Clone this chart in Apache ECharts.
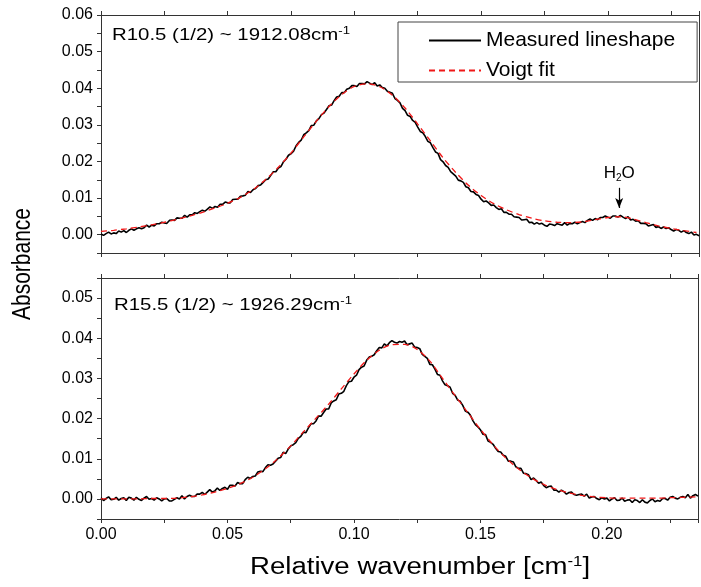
<!DOCTYPE html>
<html><head><meta charset="utf-8">
<script src="https://cdn.jsdelivr.net/npm/echarts@6/dist/echarts.min.js"></script>
<style>html,body{margin:0;padding:0;background:#fff}#c{width:701px;height:587px}</style>
</head><body><div id="c"></div>
<script>
// Sampling steps of the wavenumber grid (cm^-1)
const measuredStep = 0.001;
const fitStep = 0.005;

// Top panel: R10.5 (1/2) ~ 1912.08 cm-1
const topMeasured = [
0.0002,-0.0002,0.0003,0.0007,0.0002,0.0005,
0.0003,0.0010,0.0007,0.0011,0.0006,
0.0012,0.0016,0.0012,0.0016,0.0019,
0.0016,0.0019,0.0026,0.0021,0.0026,
0.0024,0.0030,0.0030,0.0034,0.0032,
0.0031,0.0039,0.0040,0.0039,0.0046,
0.0045,0.0045,0.0053,0.0048,0.0054,
0.0054,0.0060,0.0058,0.0063,0.0067,
0.0064,0.0070,0.0076,0.0072,0.0077,
0.0075,0.0083,0.0083,0.0089,0.0087,
0.0087,0.0096,0.0097,0.0097,0.0105,
0.0106,0.0108,0.0118,0.0115,0.0123,
0.0126,0.0134,0.0136,0.0143,0.0150,
0.0152,0.0162,0.0172,0.0172,0.0182,
0.0186,0.0199,0.0206,0.0217,0.0221,
0.0228,0.0243,0.0252,0.0258,0.0273,
0.0278,0.0284,0.0298,0.0299,0.0311,
0.0317,0.0328,0.0332,0.0342,0.0352,
0.0354,0.0366,0.0376,0.0378,0.0388,
0.0388,0.0397,0.0400,0.0407,0.0407,
0.0405,0.0413,0.0413,0.0412,0.0418,
0.0414,0.0410,0.0415,0.0406,0.0409,
0.0402,0.0400,0.0392,0.0389,0.0386,
0.0372,0.0367,0.0360,0.0345,0.0339,
0.0326,0.0323,0.0312,0.0307,0.0294,
0.0282,0.0278,0.0268,0.0255,0.0251,
0.0238,0.0226,0.0222,0.0205,0.0199,
0.0189,0.0184,0.0172,0.0166,0.0160,
0.0149,0.0147,0.0143,0.0131,0.0128,
0.0118,0.0117,0.0110,0.0107,0.0097,
0.0090,0.0092,0.0087,0.0080,0.0081,
0.0074,0.0069,0.0071,0.0061,0.0061,
0.0056,0.0056,0.0049,0.0048,0.0047,
0.0040,0.0041,0.0042,0.0033,0.0034,
0.0029,0.0033,0.0029,0.0031,0.0026,
0.0023,0.0029,0.0028,0.0025,0.0030,
0.0028,0.0026,0.0033,0.0026,0.0031,
0.0030,0.0034,0.0030,0.0033,0.0036,
0.0033,0.0039,0.0043,0.0039,0.0044,
0.0041,0.0047,0.0047,0.0051,0.0048,
0.0045,0.0051,0.0051,0.0048,0.0053,
0.0048,0.0044,0.0049,0.0040,0.0042,
0.0037,0.0038,0.0031,0.0031,0.0030,
0.0024,0.0026,0.0028,0.0020,0.0022,
0.0017,0.0021,0.0017,0.0019,0.0014,
0.0010,0.0014,0.0012,0.0007,0.0011,
0.0006,0.0003,0.0007,-0.0001,0.0001,-0.0003
];
const topFit = [
0.0009,0.0012,0.0016,0.0021,0.0027,0.0034,0.0042,0.0051,0.0061,0.0073,
0.0086,0.0102,0.0123,0.0151,0.0184,0.0223,0.0267,0.0310,0.0350,0.0383,
0.0405,0.0412,0.0404,0.0381,0.0346,0.0302,0.0256,0.0210,0.0170,0.0135,
0.0107,0.0085,0.0068,0.0055,0.0045,0.0038,0.0034,0.0033,0.0035,0.0041,
0.0047,0.0049,0.0043,0.0033,0.0024,0.0017,0.0011,0.0006
];

// Bottom panel: R15.5 (1/2) ~ 1926.29 cm-1
const bottomMeasured = [
0.0003,-0.0004,0.0001,0.0005,-0.0002,-0.0001,
0.0004,-0.0003,0.0001,0.0003,-0.0004,
0.0004,0.0002,-0.0003,0.0004,-0.0001,
-0.0004,0.0002,0.0006,-0.0001,0.0001,
-0.0003,0.0003,0.0000,-0.0005,0.0000,
0.0001,-0.0005,-0.0005,-0.0001,0.0003,
0.0000,0.0008,0.0000,0.0006,0.0009,
0.0006,0.0006,0.0012,0.0012,0.0016,
0.0011,0.0017,0.0023,0.0017,0.0020,
0.0027,0.0021,0.0026,0.0029,0.0024,
0.0034,0.0034,0.0032,0.0041,0.0038,
0.0038,0.0048,0.0054,0.0051,0.0056,
0.0057,0.0067,0.0069,0.0068,0.0078,
0.0085,0.0084,0.0087,0.0094,0.0101,
0.0103,0.0116,0.0113,0.0124,0.0132,
0.0135,0.0140,0.0151,0.0156,0.0166,
0.0165,0.0177,0.0187,0.0187,0.0194,
0.0206,0.0206,0.0215,0.0224,0.0224,
0.0239,0.0244,0.0247,0.0261,0.0263,
0.0268,0.0282,0.0292,0.0293,0.0303,
0.0308,0.0322,0.0328,0.0331,0.0345,
0.0353,0.0355,0.0359,0.0369,0.0377,
0.0376,0.0386,0.0381,0.0389,0.0394,
0.0390,0.0388,0.0392,0.0390,0.0393,
0.0384,0.0386,0.0388,0.0378,0.0377,
0.0374,0.0360,0.0355,0.0350,0.0335,
0.0334,0.0323,0.0310,0.0308,0.0294,
0.0284,0.0282,0.0278,0.0263,0.0258,
0.0246,0.0243,0.0233,0.0219,0.0216,
0.0209,0.0195,0.0185,0.0179,0.0172,
0.0161,0.0160,0.0144,0.0141,0.0136,
0.0126,0.0118,0.0117,0.0109,0.0106,
0.0094,0.0094,0.0092,0.0080,0.0076,
0.0076,0.0064,0.0063,0.0060,0.0048,
0.0052,0.0046,0.0039,0.0042,0.0033,
0.0028,0.0031,0.0032,0.0022,0.0022,
0.0017,0.0022,0.0018,0.0012,0.0016,
0.0017,0.0011,0.0009,0.0011,0.0012,
0.0007,0.0012,0.0002,0.0005,0.0006,
0.0001,-0.0002,0.0003,0.0000,0.0002,
-0.0005,0.0000,0.0003,-0.0004,-0.0003,
0.0002,-0.0006,-0.0003,-0.0002,-0.0009,
-0.0002,-0.0004,-0.0009,-0.0002,-0.0008,
-0.0010,-0.0004,0.0000,-0.0007,-0.0004,
-0.0006,0.0001,0.0001,-0.0003,0.0004,
0.0006,0.0002,0.0000,0.0004,0.0006,
0.0003,0.0011,0.0002,0.0008,0.0011,0.0007
];
const bottomFit = [
0.0000,0.0000,0.0000,0.0000,0.0001,0.0001,0.0002,0.0005,0.0010,0.0017,
0.0026,0.0038,0.0054,0.0075,0.0101,0.0132,0.0167,0.0201,0.0236,0.0274,
0.0311,0.0345,0.0370,0.0384,0.0385,0.0372,0.0343,0.0300,0.0257,0.0215,
0.0173,0.0135,0.0102,0.0075,0.0053,0.0036,0.0024,0.0015,0.0009,0.0005,
0.0003,0.0002,0.0002,0.0002,0.0002,0.0003,0.0004,0.0005
];

const seriesNames = ['Measured lineshape', 'Voigt fit'];
const panelTitles = ['R10.5 (1/2) ~ 1912.08cm{sup|-1}', 'R15.5 (1/2) ~ 1926.29cm{sup|-1}'];
const xTitle = 'Relative wavenumber [cm{sup|-1}]';
const yTitle = 'Absorbance';
const h2oLabel = 'H{sub|2}O';
const h2oArrow = [[0.2045, 0.0128], [0.2045, 0.0073]];

const xMin = 0, xMax = 0.236, xStep = 0.025;
const yRanges = [[-0.005, 0.06], [-0.005, 0.055]];
const yStep = 0.005;

const FONT = 'Liberation Sans, Arial, sans-serif';

function pairs(vals, step) { return vals.map((v, i) => [+(i * step).toFixed(4), v]); }

function xLabel(v) {
  const k = Math.round(v * 1000);
  return (Math.abs(v * 1000 - k) < 1e-6 && k % 50 === 0) ? v.toFixed(2) : '';
}
function yLabel(v) {
  const k = Math.round(v * 1000);
  return (k >= 0 && k % 10 === 0) ? (k / 1000).toFixed(2) : '';
}

const axisColor = '#333';
function xAxisDef(grid, pos) {
  return {
    type: 'value', gridIndex: grid, position: pos, min: xMin, max: xMax, interval: xStep,
    axisLine: { show: true, onZero: false, lineStyle: { color: axisColor, width: 1 } },
    axisTick: { show: true, inside: false, length: 4, lineStyle: { color: axisColor } },
    axisLabel: { show: pos === 'bottom' && grid === 1, formatter: xLabel, color: '#000', fontSize: 16, fontFamily: FONT, margin: 8 },
    splitLine: { show: false }
  };
}
function yAxisDef(grid, pos) {
  const r = yRanges[grid];
  return {
    type: 'value', gridIndex: grid, position: pos, min: r[0], max: r[1], interval: yStep,
    axisLine: { show: true, onZero: false, lineStyle: { color: axisColor, width: 1 } },
    axisTick: { show: pos === 'left', inside: false, length: 4, lineStyle: { color: axisColor } },
    axisLabel: { show: pos === 'left', formatter: yLabel, color: '#000', fontSize: 16, fontFamily: FONT, margin: 8 },
    splitLine: { show: false }
  };
}

const chart = echarts.init(document.getElementById('c'), null, { renderer: 'canvas' });

const measuredStyle = { color: '#000', width: 1.6 };
const fitStyle = { color: '#f01818', width: 1.3, type: [6, 4] };

chart.setOption({
  animation: false,
  backgroundColor: '#fff',
  grid: [
    { left: 101, right: 2, top: 15, height: 238 },
    { left: 101, right: 2, top: 278, height: 241 }
  ],
  xAxis: [xAxisDef(0, 'bottom'), xAxisDef(0, 'top'), xAxisDef(1, 'bottom'), xAxisDef(1, 'top')],
  yAxis: [yAxisDef(0, 'left'), yAxisDef(0, 'right'), yAxisDef(1, 'left'), yAxisDef(1, 'right')],
  legend: {
    orient: 'vertical', left: 398, top: 22,
    padding: [8, 22, 1, 30], itemGap: 9, itemWidth: 52, itemHeight: 14,
    borderColor: '#444', borderWidth: 1, borderRadius: 0, backgroundColor: '#fff',
    itemStyle: { opacity: 0 },
    textStyle: { fontSize: 21, fontFamily: FONT, color: '#000', lineHeight: 21 },
    data: seriesNames
  },
  series: [
    { name: seriesNames[0], type: 'line', xAxisIndex: 0, yAxisIndex: 0, data: pairs(topMeasured, measuredStep),
      symbol: 'none', lineStyle: measuredStyle, itemStyle: { color: '#000' }, z: 2,
      markLine: {
        silent: true, symbol: ['none', 'arrow'], symbolSize: [6, 10], precision: 4,
        lineStyle: { color: '#000', width: 1.2, type: 'solid' },
        label: { show: true, position: 'start', distance: 5, formatter: h2oLabel, color: '#000', fontSize: 17, fontFamily: FONT, lineHeight: 20,
          rich: { sub: { fontSize: 10, fontFamily: FONT, lineHeight: 12, verticalAlign: 'bottom' } } },
        data: [[{ coord: h2oArrow[0] }, { coord: h2oArrow[1] }]]
      } },
    { name: seriesNames[1], type: 'line', xAxisIndex: 0, yAxisIndex: 0, data: pairs(topFit, fitStep),
      symbol: 'none', smooth: 0.3, lineStyle: fitStyle, itemStyle: { color: '#f01818' }, z: 3 },
    { name: seriesNames[0], type: 'line', xAxisIndex: 2, yAxisIndex: 2, data: pairs(bottomMeasured, measuredStep),
      symbol: 'none', lineStyle: measuredStyle, itemStyle: { color: '#000' }, z: 2 },
    { name: seriesNames[1], type: 'line', xAxisIndex: 2, yAxisIndex: 2, data: pairs(bottomFit, fitStep),
      symbol: 'none', smooth: 0.3, lineStyle: fitStyle, itemStyle: { color: '#f01818' }, z: 3 }
  ],
  graphic: [
    { type: 'text', x: 112, y: 35, scaleX: 1.2, z: 10,
      style: { text: panelTitles[0], fontSize: 17, fontFamily: FONT, fill: '#000', lineHeight: 20, textVerticalAlign: 'middle',
        rich: { sup: { fontSize: 11, fontFamily: FONT, lineHeight: 11, verticalAlign: 'top' } } } },
    { type: 'text', x: 114, y: 305, scaleX: 1.2, z: 10,
      style: { text: panelTitles[1], fontSize: 17, fontFamily: FONT, fill: '#000', lineHeight: 20, textVerticalAlign: 'middle',
        rich: { sup: { fontSize: 11, fontFamily: FONT, lineHeight: 11, verticalAlign: 'top' } } } },
    { type: 'text', x: 250, y: 568, scaleX: 1.2, z: 10,
      style: { text: xTitle, fontSize: 23, fontFamily: FONT, fill: '#000', lineHeight: 26, textVerticalAlign: 'middle',
        rich: { sup: { fontSize: 14, fontFamily: FONT, lineHeight: 14, verticalAlign: 'top' } } } },
    { type: 'text', x: 23, y: 264, rotation: Math.PI / 2, scaleY: 1.2, z: 10,
      style: { text: yTitle, fontSize: 21, fontFamily: FONT, fill: '#000', textAlign: 'center', textVerticalAlign: 'middle' } }
  ]
});
</script></body></html>
